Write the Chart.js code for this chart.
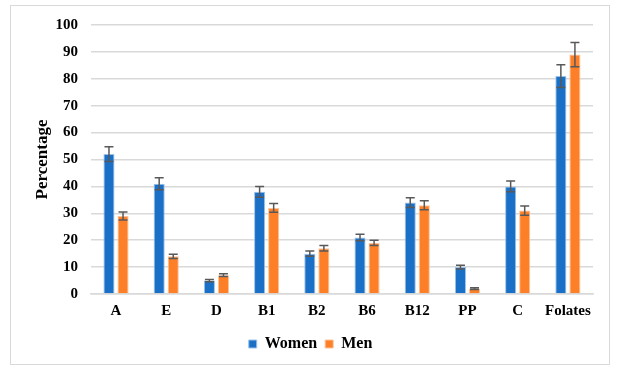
<!DOCTYPE html>
<html>
<head>
<meta charset="utf-8">
<script src="https://cdn.jsdelivr.net/npm/chart.js@4/dist/chart.umd.min.js"></script>
<style>
  body { margin: 0; background: #fff; }
  #box {
    position: absolute; left: 10px; top: 5px;
    width: 598px; height: 358px;
    border: 1.5px solid #d9d9d9;
  }
</style>
</head>
<body>
<div id="box"><canvas id="chart"></canvas></div>
<script>
const categories = ["A", "E", "D", "B1", "B2", "B6", "B12", "PP", "C", "Folates"];
const women = [52, 41, 5, 38, 15, 21, 34, 10, 40, 81];
const men = [29, 14, 7, 32, 17, 19, 33, 2, 31, 89];
const womenErr = [2.7, 2.2, 0.4, 2, 1, 1.2, 1.8, 0.7, 2, 4.2];
const menErr = [1.5, 0.8, 0.5, 1.6, 1, 1, 1.7, 0.3, 1.7, 4.5];
const yTicks = [0, 10, 20, 30, 40, 50, 60, 70, 80, 90, 100];

const errorBars = {
  id: 'errorBars',
  afterDatasetsDraw(chart) {
    const ctx = chart.ctx;
    const y = chart.scales.y;
    ctx.save();
    ctx.strokeStyle = '#595959';
    ctx.lineWidth = 1.5;
    chart.data.datasets.forEach((ds, i) => {
      const meta = chart.getDatasetMeta(i);
      meta.data.forEach((bar, j) => {
        const v = ds.data[j], e = ds.errors[j];
        const top = y.getPixelForValue(v + e);
        const bot = y.getPixelForValue(v - e);
        ctx.beginPath();
        ctx.moveTo(bar.x, top); ctx.lineTo(bar.x, bot);
        ctx.moveTo(bar.x - 4.5, top); ctx.lineTo(bar.x + 4.5, top);
        ctx.moveTo(bar.x - 4.5, bot); ctx.lineTo(bar.x + 4.5, bot);
        ctx.stroke();
      });
    });
    ctx.restore();
  }
};

const font = { family: 'Liberation Serif', weight: 'bold', size: 15 };

new Chart(document.getElementById('chart'), {
  type: 'bar',
  data: {
    labels: categories,
    datasets: [
      { label: 'Women', data: women, errors: womenErr, backgroundColor: '#1a70c6', borderColor: '#9cc3ea', borderWidth: 1 },
      { label: 'Men', data: men, errors: menErr, backgroundColor: '#fd7f27', borderColor: '#fcc39a', borderWidth: 1 }
    ]
  },
  options: {
    responsive: true,
    maintainAspectRatio: false,
    animation: false,
    categoryPercentage: 0.56,
    barPercentage: 0.79,
    layout: { padding: { left: 17, right: 16, top: 1, bottom: 2 } },
    scales: {
      x: {
        grid: { display: false, drawTicks: false },
        border: { color: '#d9d9d9', width: 1.5 },
        ticks: { font: font, color: '#000', padding: 8, maxRotation: 0, autoSkip: false }
      },
      y: {
        min: 0, max: 100,
        afterBuildTicks: s => { s.ticks = yTicks.map(v => ({ value: v })); },
        afterFit: s => { s.width -= 14; },
        grid: { color: '#d9d9d9', lineWidth: 1.5, drawTicks: false },
        border: { display: false },
        ticks: { font: { family: 'Liberation Serif', weight: 'bold', size: 15, lineHeight: 0.8 }, color: '#000', padding: 13 },
        title: { display: true, text: 'Percentage', font: { family: 'Liberation Serif', weight: 'bold', size: 17 }, color: '#000', padding: 4 }
      }
    },
    plugins: {
      legend: {
        position: 'bottom',
        labels: { font: { family: 'Liberation Serif', weight: 'bold', size: 16 }, color: '#000', boxWidth: 8, boxHeight: 8, padding: 8 }
      },
      tooltip: { enabled: false }
    }
  },
  plugins: [errorBars]
});
</script>
</body>
</html>
